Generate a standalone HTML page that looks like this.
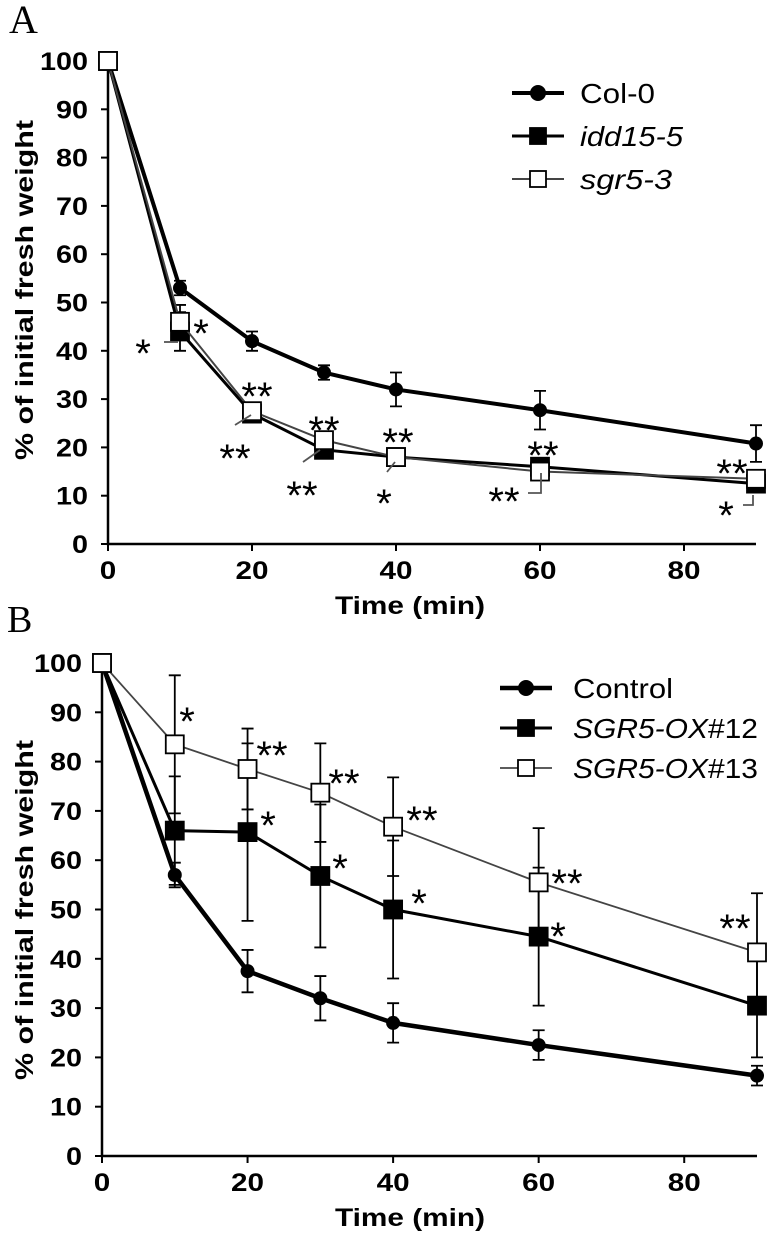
<!DOCTYPE html>
<html><head><meta charset="utf-8"><style>
html,body{margin:0;padding:0;background:#fff}
svg text{font-family:"Liberation Sans",sans-serif}
</style></head><body>
<svg id="fig" width="769" height="1233" viewBox="0 0 769 1233" xmlns="http://www.w3.org/2000/svg"></svg>
<script>
const times=[0,10,20,30,40,60,90];
const xTicks=[0,20,40,60,80];
const yTicks=[0,10,20,30,40,50,60,70,80,90,100];
const colA=[100,53,42,35.5,32,27.7,20.8];
const colAErr=[0,1.5,2,1.5,3.5,4,3.8];
const iddA=[100,44,27,19.5,18,16,12.5];
const iddAErr=[0,4,1,1,1,1,1];
const sgrA=[100,46,27.5,21.5,18,15,13.5];
const sgrAErr=[0,3.5,1,1,1,1,1];
const ctrlB=[100,57,37.5,32,27,22.5,16.3];
const ctrlBErr=[0,2.5,4.3,4.5,4,3,2];
const ox12B=[100,66,65.7,56.8,50,44.5,30.5];
const ox12BErr=[0,11,18,14.5,14,14,10.5];
const ox13B=[100,83.5,78.5,73.7,66.8,55.5,41.3];
const ox13BErr=[0,14,8.2,10,10,11,12];

const NS="http://www.w3.org/2000/svg";
const svg=document.getElementById('fig');
function mk(tag,attrs,parent,txt){const e=document.createElementNS(NS,tag);for(const k in attrs)e.setAttribute(k,attrs[k]);if(txt!==undefined)e.textContent=txt;(parent||svg).appendChild(e);return e;}

function panel(cfg){
  const g=mk('g',{});
  
  
  const sx=v=>cfg.x0+(v/90)*(cfg.x90-cfg.x0);
  const sy=v=>cfg.y0-(v/100)*(cfg.y0-cfg.y100);
  const t=mk('text',{x:cfg.lx,y:cfg.ly,'font-size':cfg.lfs,style:'font-family:"Liberation Serif",serif'},g,cfg.letter);
  
  const ax=mk('path',{d:`M${sx(0)} ${sy(100)}V${sy(0)}H${sx(90)}`,stroke:'#000','stroke-width':2.5,fill:'none'},g);
  
  yTicks.forEach(v=>{
    mk('line',{x1:sx(0)-7,x2:sx(0),y1:sy(v),y2:sy(v),stroke:'#000','stroke-width':2},g);
    const s=String(v);
    const l=mk('text',{x:sx(0)-20,y:sy(v)+9,'text-anchor':'end','font-size':25,'font-weight':'bold',textLength:16*s.length,lengthAdjust:'spacingAndGlyphs'},g,s);
    
  });
  xTicks.forEach(v=>{
    mk('line',{x1:sx(v),x2:sx(v),y1:sy(0),y2:sy(0)+7,stroke:'#000','stroke-width':2},g);
    const s=String(v);
    const l=mk('text',{x:sx(v),y:sy(0)+35,'text-anchor':'middle','font-size':25,'font-weight':'bold',textLength:16.5*s.length,lengthAdjust:'spacingAndGlyphs'},g,s);
    
  });
  const xt=mk('text',{x:410,y:sy(0)+70,'text-anchor':'middle','font-size':25,'font-weight':'bold',textLength:150,lengthAdjust:'spacingAndGlyphs'},g,'Time (min)');
  
  const yt=mk('text',{x:0,y:0,transform:`translate(33,${cfg.ytc}) rotate(-90)`,'text-anchor':'middle','font-size':25,'font-weight':'bold',textLength:340,lengthAdjust:'spacingAndGlyphs'},g,'% of initial fresh weight');
  
  cfg.series.forEach(s=>{
    const sg=mk('g',{},g);
    
    s.vals.forEach((v,i)=>{ if(s.err[i]>0){
      const x=sx(times[i]);
      mk('path',{d:`M${x} ${sy(v-s.err[i])}V${sy(v+s.err[i])}M${x-6} ${sy(v-s.err[i])}h12M${x-6} ${sy(v+s.err[i])}h12`,stroke:'#000','stroke-width':1.8,fill:'none'},sg);
    }});
    mk('polyline',{points:s.vals.map((v,i)=>sx(times[i])+','+sy(v)).join(' '),stroke:s.lc||'#000','stroke-width':s.lw,fill:'none'},sg);
    s.vals.forEach((v,i)=>{
      const x=sx(times[i]),y=sy(v);let m;
      if(s.m==='c')m=mk('circle',{cx:x,cy:y,r:7,fill:'#000'},sg);
      else m=mk('rect',{x:x-9,y:y-9,width:18,height:18,fill:s.m==='fs'?'#000':'#fff',stroke:'#000','stroke-width':1.8},sg);
      
    });
  });
  cfg.series.forEach((s,k)=>{
    const y=cfg.legY+k*cfg.legDy;
    const lg=mk('g',{},g);
    
    mk('line',{x1:cfg.legX,x2:cfg.legX+52,y1:y,y2:y,stroke:s.lc||'#000','stroke-width':s.lw},lg);
    const x=cfg.legX+26;
    if(s.m==='c')mk('circle',{cx:x,cy:y,r:8,fill:'#000'},lg);
    else mk('rect',{x:x-8,y:y-8,width:16,height:16,fill:s.m==='fs'?'#000':'#fff',stroke:'#000','stroke-width':1.8},lg);
    const tx=mk('text',{x:cfg.legTx,y:y+10,'font-size':28,textLength:s.tl,lengthAdjust:'spacingAndGlyphs'},lg);
    if(s.ital){mk('tspan',{'font-style':'italic'},tx,s.ital);if(s.rest)mk('tspan',{},tx,s.rest);}else tx.textContent=s.label;
  });
  cfg.stars.forEach(st=>{
    const a=mk('text',{x:st[0],y:st[1]+22,'text-anchor':'middle','font-size':40},g,st[2]);
    
  });
  (cfg.leaders||[]).forEach(p=>mk('path',{d:p,stroke:'#555','stroke-width':1.8,fill:'none'},g));
}
panel({name:'panel-a',letter:'A',lx:9,ly:33,lfs:40,x0:108,x90:756,y0:544,y100:61,ytc:290,legX:512,legTx:580,legY:93,legDy:43,
 series:[
  {id:'col-0',vals:colA,err:colAErr,m:'c',lw:4,label:'Col-0',tl:75},
  {id:'idd15-5',vals:iddA,err:iddAErr,m:'fs',lw:3,ital:'idd15-5',tl:103},
  {id:'sgr5-3',vals:sgrA,err:sgrAErr,m:'os',lw:2,lc:'#444',ital:'sgr5-3',tl:92}],
 stars:[[143,345,'*'],[201,325,'*'],[257,388,'**'],[235,450,'**'],[324,422,'**'],[302,487,'**'],[398,434,'**'],[384,495,'*'],[543,447,'**'],[504,493,'**'],[732,465,'**'],[726,507,'*']],
 leaders:['M164 342h14','M235 425l16-10','M303 462l17-12','M387 472l8-10','M528 493h13v-20','M743 505h10v-10']
});
panel({name:'panel-b',letter:'B',lx:7,ly:632,lfs:38,x0:102,x90:757,y0:1156,y100:663,ytc:910,legX:500,legTx:573,legY:688,legDy:40,
 series:[
  {id:'control',vals:ctrlB,err:ctrlBErr,m:'c',lw:4.5,label:'Control',tl:100},
  {id:'sgr5-ox12',vals:ox12B,err:ox12BErr,m:'fs',lw:3,ital:'SGR5-OX',rest:'#12',tl:185},
  {id:'sgr5-ox13',vals:ox13B,err:ox13BErr,m:'os',lw:1.8,lc:'#444',ital:'SGR5-OX',rest:'#13',tl:185}],
 stars:[[187,713,'*'],[272,747,'**'],[344,775,'**'],[422,812,'**'],[567,875,'**'],[735,920,'**'],[268,817,'*'],[340,860,'*'],[419,895,'*'],[558,928,'*']]
});
</script>
</body></html>
